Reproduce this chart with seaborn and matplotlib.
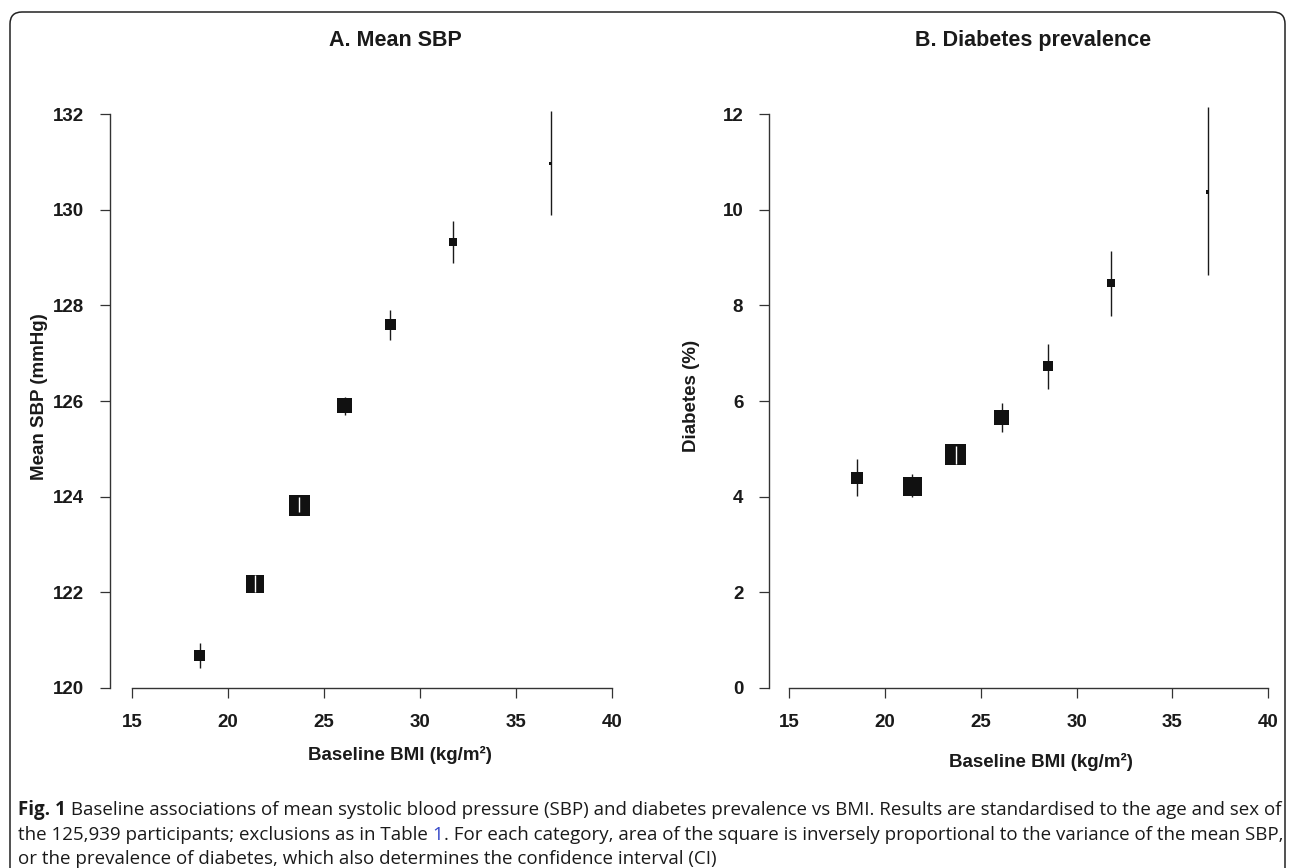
import matplotlib
matplotlib.use("Agg")
import matplotlib.pyplot as plt
import seaborn as sns
import pandas as pd
from matplotlib.patches import FancyBboxPatch

sns.set_theme(style="white")
plt.rcParams['font.family'] = ['Liberation Sans', 'DejaVu Sans']

# ------------------------------------------------------------------
# Values
# ------------------------------------------------------------------
bmi_a = [18.52, 21.39, 23.70, 26.08, 28.45, 31.73, 36.79]
sbp_mean = [120.67, 122.18, 123.81, 125.91, 127.60, 129.33, 130.97]
sbp_lo = [120.41, 122.00, 123.67, 125.71, 127.28, 128.89, 129.90]
sbp_hi = [120.94, 122.36, 124.00, 126.08, 127.90, 129.76, 132.06]
weight_a = [121, 324, 441, 225, 121, 64, 12]   # relative inverse variance

bmi_b = [18.53, 21.42, 23.70, 26.08, 28.49, 31.77, 36.84]
diab_prev = [4.39, 4.22, 4.88, 5.65, 6.73, 8.46, 10.37]
diab_lo = [4.01, 3.99, 4.68, 5.35, 6.26, 7.78, 8.64]
diab_hi = [4.78, 4.47, 5.07, 5.95, 7.20, 9.14, 12.14]
weight_b = [156, 361, 441, 225, 100, 64, 12]

x_ticks = [15, 20, 25, 30, 35, 40]
yticks_a = [120, 122, 124, 126, 128, 130, 132]
yticks_b = [0, 2, 4, 6, 8, 10, 12]

W, H = 1292, 868
fig = plt.figure(figsize=(W / 100, H / 100), dpi=100)
fig.patch.set_facecolor('white')

INK = '#111111'
AXC = '#333333'
PX_PT = 0.72  # points per pixel at dpi 100


def draw_panel(ax, x, y, lo, hi, w, xlim, ylim, yticks, title, title_x, ylabel, ylab_x, xlab_pos):
    df = pd.DataFrame({'bmi': x, 'val': y, 'lo': lo, 'hi': hi, 'w': w})
    ax.set_xlim(*xlim)
    ax.set_ylim(*ylim)

    # confidence intervals
    ax.vlines(df['bmi'], df['lo'], df['hi'], color='#1a1a1a', lw=1.0, zorder=1)

    # squares, area proportional to inverse variance
    sns.scatterplot(data=df, x='bmi', y='val', size='w',
                    sizes=(0, 1000 * PX_PT ** 2), size_norm=(0, 1000),
                    marker='s', color=INK, linewidth=0, legend=False,
                    zorder=2, ax=ax)

    # CI that falls inside its square is shown in white
    fig.canvas.draw()
    for _, r in df.iterrows():
        p_lo = ax.transData.transform((r['bmi'], r['lo']))[1]
        p_hi = ax.transData.transform((r['bmi'], r['hi']))[1]
        if abs(p_hi - p_lo) < r['w'] ** 0.5:
            ax.vlines(r['bmi'], r['lo'], r['hi'], color='white', lw=1.0, zorder=3)

    sns.despine(ax=ax)
    ax.spines['left'].set_bounds(yticks[0], yticks[-1])
    ax.spines['bottom'].set_bounds(x_ticks[0], x_ticks[-1])
    for s in ('left', 'bottom'):
        ax.spines[s].set_color(AXC)
        ax.spines[s].set_linewidth(1.0)
    ax.set_xticks(x_ticks)
    ax.set_yticks(yticks)
    ax.tick_params(bottom=True, left=True, direction='out', length=7.5, width=0.9,
                   color=AXC, labelsize=13.5, pad=11, labelcolor='#1a1a1a')
    for lbl in ax.get_xticklabels() + ax.get_yticklabels():
        lbl.set_fontweight('bold')

    ax.set_xlabel('Baseline BMI (kg/m²)', fontsize=13.5, fontweight='bold', color='#1a1a1a')
    ax.set_ylabel(ylabel, fontsize=13.5, fontweight='bold', color='#1a1a1a')
    ax.xaxis.set_label_coords(*xlab_pos)
    ax.yaxis.set_label_coords(ylab_x, 0.5)
    ax.set_title(title, fontsize=15.5, fontweight='bold', color='#1a1a1a', x=title_x, pad=42)
    ax.grid(False)


# axes placed in pixel terms: left spine x, bottom spine y=688, top y=104.5
bottom = (H - 688) / H
height = (688 - 104.5) / H

ax_a = fig.add_axes([110 / W, bottom, 508 / W, height])
draw_panel(ax_a, bmi_a, sbp_mean, sbp_lo, sbp_hi, weight_a,
           (13.85, 40.3), (120, 132.2), yticks_a,
           'A. Mean SBP', 0.561, 'Mean SBP (mmHg)', -0.122, (0.571, -0.099))

ax_b = fig.add_axes([769 / W, bottom, 505 / W, height])
draw_panel(ax_b, bmi_b, diab_prev, diab_lo, diab_hi, weight_b,
           (13.94, 40.3), (0, 12.2), yticks_b,
           'B. Diabetes prevalence', 0.523, 'Diabetes (%)', -0.137, (0.539, -0.111))

# ------------------------------------------------------------------
# Caption
# ------------------------------------------------------------------
cap_font = ['Open Sans', 'DejaVu Sans']
caption = [
    [("Fig. 1", 'bold', '#1a1a1a'),
     (" Baseline associations of mean systolic blood pressure (SBP) and diabetes prevalence vs BMI. "
      "Results are standardised to the age and sex of", 'normal', '#1a1a1a')],
    [("the 125,939 participants; exclusions as in Table ", 'normal', '#1a1a1a'),
     ("1", 'normal', '#3548c8'),
     (". For each category, area of the square is inversely proportional to the variance of the mean SBP,",
      'normal', '#1a1a1a')],
    [("or the prevalence of diabetes, which also determines the confidence interval (CI)", 'normal', '#1a1a1a')],
]
baselines = [815, 840, 864]
renderer = fig.canvas.get_renderer()


def put_line(line, base, size):
    xpos = 18
    arts = []
    for txt, wt, col in line:
        t = fig.text(xpos / W, 1 - base / H, txt, family=cap_font, fontsize=size,
                     fontweight=wt, color=col, ha='left', va='baseline')
        xpos = t.get_window_extent(renderer=renderer).x1
        arts.append(t)
    return arts, xpos


# first line of the caption fills the frame width (ends near x=1280)
probe, end = put_line(caption[0], baselines[0], 10)
for t in probe:
    t.remove()
cap_size = 10 * (1280 - 18) / (end - 18)

for line, base in zip(caption, baselines):
    put_line(line, base, cap_size)

# rounded frame around the whole figure (open at the bottom)
frame = FancyBboxPatch((0.10, -0.5), 12.75, 8.56 + 0.5,
                       boxstyle="round,pad=0,rounding_size=0.12",
                       transform=fig.dpi_scale_trans, fill=False,
                       edgecolor='#222222', linewidth=1.1)
fig.add_artist(frame)

fig.savefig('out.png', dpi=100)
